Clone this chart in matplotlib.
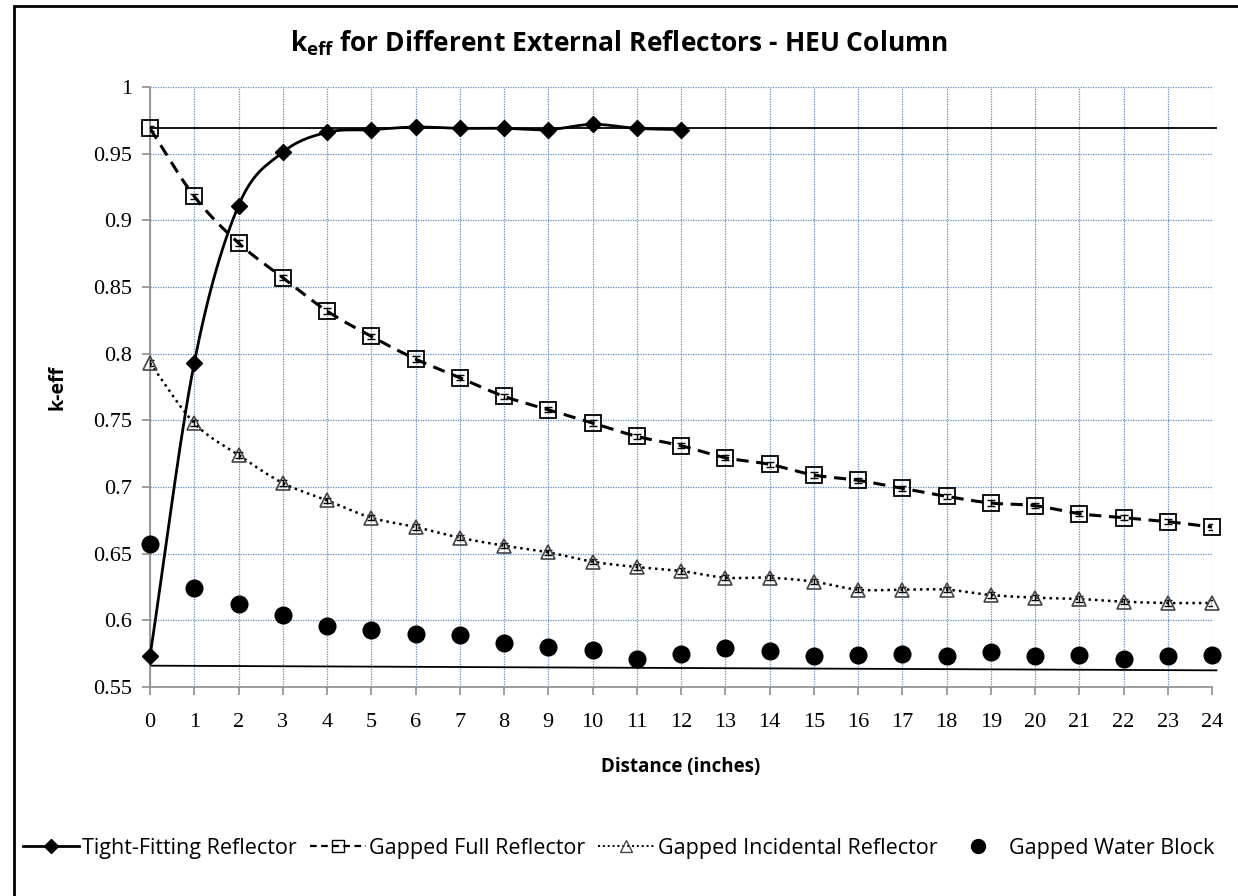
import numpy as np
import matplotlib
matplotlib.use("Agg")
import matplotlib.pyplot as plt
from matplotlib.lines import Line2D
from matplotlib.patches import Rectangle

# ---------------- data ----------------
distance = list(range(0, 25))
tight_x = list(range(0, 13))
tight_fitting = [0.573, 0.793, 0.911, 0.951, 0.966, 0.968, 0.970, 0.969,
                 0.969, 0.968, 0.972, 0.969, 0.968]
gapped_full = [0.969, 0.918, 0.883, 0.857, 0.832, 0.813, 0.796, 0.782, 0.768,
               0.758, 0.748, 0.738, 0.731, 0.722, 0.717, 0.709, 0.705, 0.699,
               0.693, 0.688, 0.686, 0.680, 0.677, 0.674, 0.670]
gapped_incidental = [0.793, 0.748, 0.724, 0.703, 0.690, 0.677, 0.670, 0.662,
                     0.656, 0.651, 0.644, 0.640, 0.637, 0.632, 0.632, 0.629,
                     0.623, 0.623, 0.623, 0.619, 0.617, 0.616, 0.614, 0.613,
                     0.613]
gapped_water = [0.657, 0.624, 0.612, 0.604, 0.596, 0.593, 0.590, 0.589, 0.583,
                0.580, 0.578, 0.571, 0.575, 0.579, 0.577, 0.573, 0.574, 0.575,
                0.573, 0.576, 0.573, 0.574, 0.571, 0.573, 0.574]
upper_ref = [0.969, 0.969]          # reference line near top
lower_ref = [0.566, 0.5625]         # reference line near bottom
ref_x = [0, 24.1]
err = 0.002

series_labels = ["Tight-Fitting Reflector", "Gapped Full Reflector",
                 "Gapped Incidental Reflector", "Gapped Water Block"]


def smooth(x, y, n=16):
    """Catmull-Rom curve through the points (for drawing only)."""
    x = np.asarray(x, float)
    y = np.asarray(y, float)
    px = np.concatenate([[2 * x[0] - x[1]], x, [2 * x[-1] - x[-2]]])
    py = np.concatenate([[2 * y[0] - y[1]], y, [2 * y[-1] - y[-2]]])
    xs, ys = [], []
    t = np.linspace(0, 1, n, endpoint=False)
    for i in range(1, len(px) - 2):
        for arr, out in ((px, xs), (py, ys)):
            p0, p1, p2, p3 = arr[i - 1], arr[i], arr[i + 1], arr[i + 2]
            seg = 0.5 * ((2 * p1) + (-p0 + p2) * t +
                         (2 * p0 - 5 * p1 + 4 * p2 - p3) * t ** 2 +
                         (-p0 + 3 * p1 - 3 * p2 + p3) * t ** 3)
            out.extend(seg)
    xs.append(x[-1]); ys.append(y[-1])
    return np.array(xs), np.array(ys)


TXT = "Open Sans"
SERIF = "Liberation Serif"

fig = plt.figure(figsize=(12.38, 8.96), dpi=100)
ax = fig.add_axes([150 / 1238, 1 - 687 / 896, (1212 - 150) / 1238, 600 / 896])

# outer chart border
fig.patches.append(Rectangle((14 / 1238, -0.01), 1.05, 1 - 6 / 896 + 0.01,
                             transform=fig.transFigure, fill=False,
                             edgecolor="black", linewidth=2.0, zorder=0))

# reference lines
ax.plot(ref_x, upper_ref, color="black", lw=1.3, zorder=2, clip_on=False)
ax.plot(ref_x, lower_ref, color="black", lw=1.3, zorder=2, clip_on=False)

# Tight-fitting
sx, sy = smooth(tight_x, tight_fitting)
ax.plot(sx, sy, color="black", lw=2.0, zorder=3)
ax.plot(tight_x, tight_fitting, ls="none", marker="D", ms=8,
        color="black", zorder=4, clip_on=False)

# Gapped full
sx, sy = smooth(distance, gapped_full)
ax.plot(sx, sy, color="black", lw=2.2, ls=(0, (4, 2.5)), zorder=3)
ax.errorbar(distance, gapped_full, yerr=err, fmt="none", ecolor="black",
            elinewidth=1, capsize=3, zorder=4)
ax.plot(distance, gapped_full, ls="none", marker="s", ms=11, mfc="none",
        mec="black", mew=1.3, zorder=5, clip_on=False)

# Gapped incidental
sx, sy = smooth(distance, gapped_incidental)
ax.plot(sx, sy, color="black", lw=1.8, ls=(0, (1, 1.6)), zorder=3)
ax.errorbar(distance, gapped_incidental, yerr=err, fmt="none", ecolor="black",
            elinewidth=1, capsize=3, zorder=4)
ax.plot(distance, gapped_incidental, ls="none", marker="^", ms=10, mfc="none",
        mec="#444444", mew=1.2, zorder=5, clip_on=False)

# Water block
ax.plot(distance, gapped_water, ls="none", marker="o", ms=12,
        color="black", zorder=4, clip_on=False)

# axes
ax.set_xlim(0, 24)
ax.set_ylim(0.55, 1.0)
ax.set_xticks(distance)
ax.set_yticks(np.arange(0.55, 1.0001, 0.05))
ax.set_yticklabels(["0.55", "0.6", "0.65", "0.7", "0.75", "0.8", "0.85",
                    "0.9", "0.95", "1"])
ax.grid(True, color="#4f81bd", linestyle=(0, (1, 1)), linewidth=0.9, alpha=0.9)
ax.set_axisbelow(True)
for s in ("top", "right"):
    ax.spines[s].set_visible(False)
for s in ("left", "bottom"):
    ax.spines[s].set_color("#8c8c8c")
    ax.spines[s].set_linewidth(1.2)
ax.tick_params(axis="both", direction="out", length=6, color="#8c8c8c",
               width=1.2, labelsize=16)
ax.tick_params(axis="x", pad=13)
ax.tick_params(axis="y", pad=7)
for lab in ax.get_xticklabels() + ax.get_yticklabels():
    lab.set_fontfamily(SERIF)

ax.set_xlabel("Distance (inches)", fontsize=13.5, fontweight="bold",
              fontfamily=TXT, labelpad=18)
ax.set_ylabel("k-eff", fontsize=14, fontweight="bold", fontfamily=TXT,
              labelpad=18)

fig.text(0.5, 1 - 43 / 896, r"k$_{\mathregular{eff}}$ for Different External Reflectors - HEU Column",
         ha="center", va="center", fontsize=19, fontweight="bold",
         fontfamily=TXT)

handles = [
    Line2D([], [], color="black", lw=2.0, marker="D", ms=7),
    Line2D([], [], color="black", lw=1.6, ls=(0, (3, 2)), marker="s", ms=8,
           mfc="none", mec="black"),
    Line2D([], [], color="black", lw=1.4, ls=(0, (1, 1.5)), marker="^", ms=8,
           mfc="none", mec="#444444"),
    Line2D([], [], ls="none", color="black", marker="o", ms=10),
]
fig.legend(handles, series_labels, loc="center", ncol=4,
           bbox_to_anchor=(0.5, 1 - 848 / 896), frameon=False,
           prop={"family": TXT, "size": 15.5}, handlelength=2.6,
           handletextpad=0.15, columnspacing=0.6)

fig.savefig("out.png", dpi=100)
